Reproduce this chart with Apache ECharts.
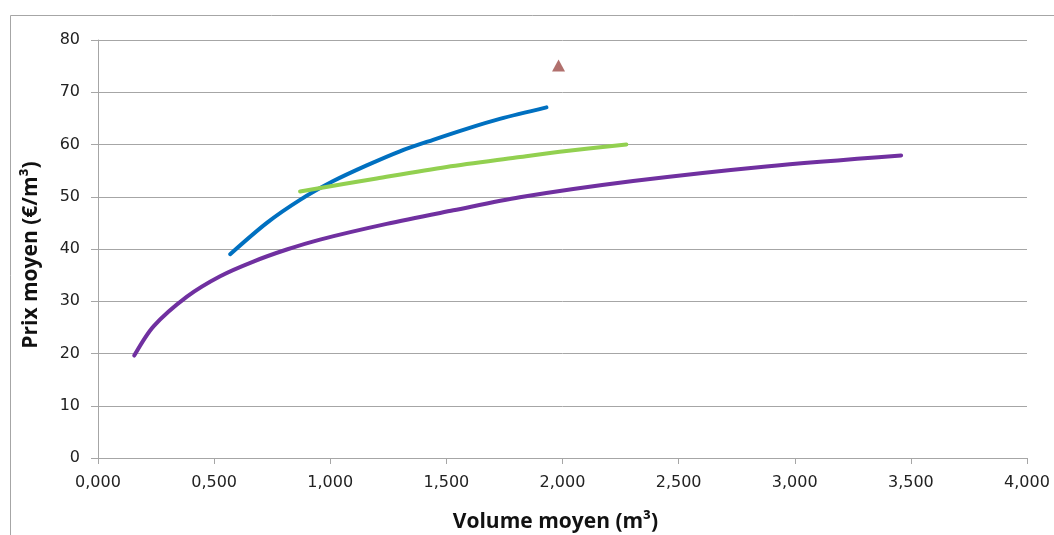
<!DOCTYPE html>
<html>
<head>
<meta charset="utf-8">
<script src="https://cdn.jsdelivr.net/npm/echarts@6/dist/echarts.min.js"></script>
<style>
  html, body { margin: 0; padding: 0; background: #ffffff; }
  #chart { width: 1054px; height: 535px; }
</style>
</head>
<body>
<div id="chart"></div>
<script>
// Average volume (m³) vs average price (€/m³)
const blueVolume   = [569, 727, 870, 1013, 1157, 1300, 1443, 1587, 1730, 1931];
const bluePrice    = [39.0, 45.0, 49.4, 53.0, 56.0, 58.7, 60.9, 63.0, 64.9, 67.1];

const greenVolume  = [870, 1200, 1501, 1800, 1988, 2275];
const greenPrice   = [51.0, 53.5, 55.7, 57.5, 58.6, 60.0];

const purpleVolume = [156, 239, 383, 526, 669, 813, 956, 1243, 1530, 1816, 2304, 2877, 3458];
const purplePrice  = [19.6, 25.2, 30.9, 34.8, 37.6, 39.9, 41.8, 44.8, 47.4, 49.9, 53.0, 55.8, 57.9];

const pointVolume  = [1983];
const pointPrice   = [75.1];

const xTicks = { min: 0, max: 4000, step: 500 };
const yTicks = { min: 0, max: 80, step: 10 };

function pairs(xs, ys) { return xs.map((x, i) => [x, ys[i]]); }

const chart = echarts.init(document.getElementById('chart'), null, { renderer: 'canvas' });

const tickFont = { fontFamily: 'DejaVu Sans', fontSize: 16, color: '#222222' };
const titleFont = { fontFamily: 'Open Sans', fontWeight: 'bold', fontSize: 21, color: '#111111' };

function curve(name, xs, ys, color) {
  return {
    name: name,
    type: 'line',
    data: pairs(xs, ys),
    smooth: 0.3,
    showSymbol: false,
    symbol: 'none',
    lineStyle: { color: color, width: 4, cap: 'round' },
    z: 3,
    silent: true
  };
}

chart.setOption({
  animation: false,
  backgroundColor: '#ffffff',
  graphic: [{
    type: 'rect',
    shape: { x: 10.5, y: 15.5, width: 1200, height: 800 },
    style: { fill: 'none', stroke: '#a6a6a6', lineWidth: 1 },
    z: -1
  }],
  grid: { left: 98, right: 27, top: 40, bottom: 77, containLabel: false, outerBoundsMode: 'none' },
  xAxis: {
    type: 'value',
    min: xTicks.min, max: xTicks.max, interval: xTicks.step,
    name: 'Volume moyen (m³)',
    nameLocation: 'middle',
    nameGap: 54,
    nameTextStyle: Object.assign({ padding: [0, 14, 0, 0] }, titleFont),
    axisLine: { show: true, lineStyle: { color: '#a6a6a6', width: 1 } },
    axisTick: { show: true, length: 6, lineStyle: { color: '#a6a6a6' } },
    axisLabel: Object.assign({
      margin: 17,
      formatter: v => (v / 1000).toFixed(3).replace('.', ',')
    }, tickFont),
    splitLine: { show: false }
  },
  yAxis: {
    type: 'value',
    min: yTicks.min, max: yTicks.max, interval: yTicks.step,
    name: 'Prix moyen (€/m³)',
    nameLocation: 'middle',
    nameGap: 56,
    nameRotate: 90,
    nameTextStyle: Object.assign({ padding: [0, 12, 0, 0] }, titleFont),
    axisLine: { show: true, lineStyle: { color: '#a6a6a6', width: 1 } },
    axisTick: { show: true, length: 7, lineStyle: { color: '#a6a6a6' } },
    axisLabel: Object.assign({ margin: 18 }, tickFont),
    splitLine: { show: true, lineStyle: { color: '#a6a6a6', width: 1 } }
  },
  series: [
    curve('Série bleue', blueVolume, bluePrice, '#0070C0'),
    curve('Série verte', greenVolume, greenPrice, '#92D050'),
    curve('Série violette', purpleVolume, purplePrice, '#7030A0'),
    {
      name: 'Point',
      type: 'scatter',
      data: pairs(pointVolume, pointPrice),
      symbol: 'triangle',
      symbolSize: [13, 12],
      itemStyle: { color: '#9E4C49' },
      z: 4,
      silent: true
    }
  ]
});
</script>
</body>
</html>
